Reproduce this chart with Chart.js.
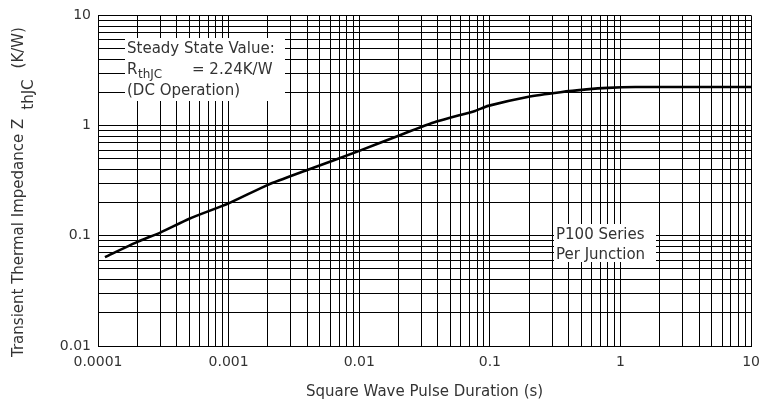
<!DOCTYPE html>
<html>
<head>
<meta charset="utf-8">
<script src="https://cdn.jsdelivr.net/npm/chart.js@4"></script>
<style>
  html, body { margin: 0; padding: 0; background: #fff; }
  #wrap { width: 768px; height: 409px; }
</style>
</head>
<body>
<div id="wrap"><canvas id="zth"></canvas></div>
<script>
// pulse duration (s) vs transient thermal impedance (K/W)
const pulseDuration = [0.000113, 0.0002, 0.0003, 0.0005, 0.001, 0.002, 0.004, 0.01, 0.02, 0.039, 0.077, 0.097, 0.194, 0.347, 0.55, 0.8, 1.3, 3, 10];
const zthjc = [0.064, 0.088, 0.107, 0.143, 0.197, 0.29, 0.395, 0.59, 0.81, 1.087, 1.36, 1.51, 1.82, 2.01, 2.13, 2.20, 2.24, 2.24, 2.24];

const xDecades = [0.0001, 0.001, 0.01, 0.1, 1, 10];
const yDecades = [0.01, 0.1, 1, 10];
const xTickLabels = ["0.0001", "0.001", "0.01", "0.1", "1", "10"];
const yTickLabels = ["0.01", "0.1", "1", "10"];

const FONT = "DejaVu Sans";
const TXT = "#333";

// gridlines at 1..9 of every decade
function decadeTicks(decades) {
  const out = [];
  for (let i = 0; i < decades.length - 1; i++) {
    for (let m = 1; m <= 9; m++) out.push({ value: +(decades[i] * m).toPrecision(3) });
  }
  out.push({ value: decades[decades.length - 1] });
  return out;
}

function labelFor(decades, labels) {
  return function (value) {
    const idx = decades.findIndex((d) => Math.abs(d - value) / d < 1e-6);
    return idx >= 0 ? labels[idx] : "";
  };
}

const extras = {
  id: "extras",
  beforeDatasetsDraw(chart) {
    const ctx = chart.ctx;
    ctx.save();
    // white boxes behind notes
    ctx.fillStyle = "#fff";
    ctx.fillRect(125, 38, 160, 63);
    ctx.fillRect(554, 224, 102, 38);
    ctx.fillStyle = TXT;
    ctx.textBaseline = "middle";
    ctx.textAlign = "left";
    ctx.font = "15px " + FONT;
    ctx.fillText("Steady State Value:", 127, 49);
    ctx.fillText("R", 127, 70);
    ctx.font = "12px " + FONT;
    ctx.fillText("thJC", 138, 75);
    ctx.font = "15px " + FONT;
    ctx.fillText("= 2.24K/W", 192, 70);
    ctx.fillText("(DC Operation)", 127, 91);
    ctx.fillText("P100 Series", 556, 235);
    ctx.fillText("Per Junction", 556, 255);
    ctx.restore();
  },
  afterDraw(chart) {
    const ctx = chart.ctx;
    const area = chart.chartArea;
    ctx.save();
    ctx.fillStyle = TXT;
    ctx.textBaseline = "middle";
    // x title
    ctx.font = "15px " + FONT;
    ctx.textAlign = "center";
    ctx.fillText("Square Wave Pulse Duration (s)", (area.left + area.right) / 2, 392);
    // y title, rotated, with subscript
    ctx.translate(19, 357);
    ctx.rotate(-Math.PI / 2);
    ctx.textAlign = "left";
    const main = "Transient Thermal Impedance Z";
    ctx.font = "15px " + FONT;
    const w1 = ctx.measureText(main).width;
    ctx.fillText(main, 0, 0);
    ctx.fillText("thJC", w1 + 9, 10);
    const w2 = ctx.measureText("thJC").width;
    ctx.fillText("(K/W)", w1 + 9 + w2 + 11, 0);
    ctx.restore();
  },
};

new Chart(document.getElementById("zth"), {
  type: "line",
  data: {
    datasets: [
      {
        data: pulseDuration.map((x, i) => ({ x: x, y: zthjc[i] })),
        borderColor: "#000",
        borderWidth: 2.6,
        pointRadius: 0,
        tension: 0.2,
        fill: false,
      },
    ],
  },
  options: {
    responsive: true,
    maintainAspectRatio: false,
    animation: false,
    layout: { padding: { top: 14, right: 10, left: 0, bottom: 0 } },
    plugins: { legend: { display: false }, tooltip: { enabled: false } },
    scales: {
      x: {
        type: "logarithmic",
        min: 0.0001,
        max: 10,
        afterBuildTicks: (s) => { s.ticks = decadeTicks(xDecades); },
        afterFit: (s) => { s.height = 63; },
        grid: { color: "#000", lineWidth: 1, drawTicks: false },
        border: { color: "#000", width: 1 },
        ticks: {
          autoSkip: false,
          maxRotation: 0,
          padding: 8,
          color: TXT,
          font: { family: FONT, size: 14 },
          callback: labelFor(xDecades, xTickLabels),
        },
      },
      y: {
        type: "logarithmic",
        min: 0.01,
        max: 10,
        afterBuildTicks: (s) => { s.ticks = decadeTicks(yDecades); },
        afterFit: (s) => { s.width = 98; },
        grid: { color: "#000", lineWidth: 1, drawTicks: false },
        border: { color: "#000", width: 1 },
        ticks: {
          autoSkip: false,
          padding: 7,
          color: TXT,
          font: { family: FONT, size: 14 },
          callback: labelFor(yDecades, yTickLabels),
        },
      },
    },
  },
  plugins: [extras],
});
</script>
</body>
</html>
